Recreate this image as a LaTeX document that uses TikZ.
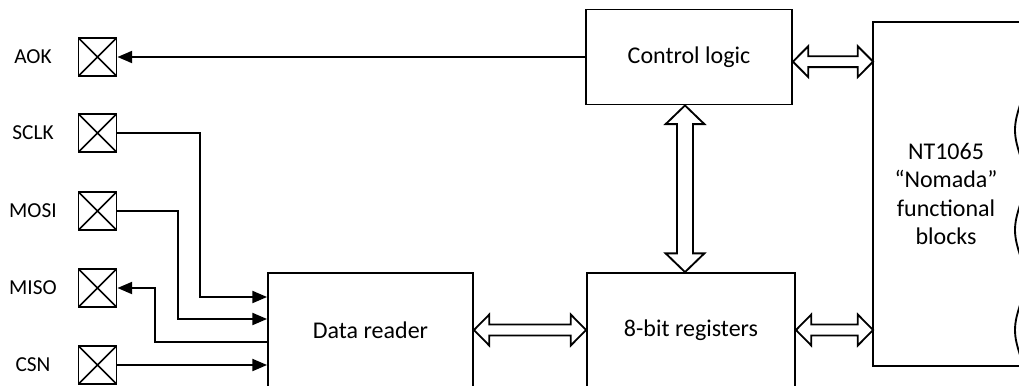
\documentclass[tikz,border=0pt]{standalone}
\usepackage{fontspec}
\setmainfont{Carlito}
\usetikzlibrary{arrows.meta,calc}

\tikzset{
 block/.style={draw,line width=1.4pt,align=center,inner sep=2pt,font=\fontsize{18}{21.4}\selectfont},
 pad/.style={draw,line width=1.4pt,minimum size=28.5pt,inner sep=0pt,
  path picture={\draw[line width=1.2pt] (path picture bounding box.north west)--(path picture bounding box.south east)
   (path picture bounding box.south west)--(path picture bounding box.north east);}},
 padname/.style={font=\fontsize{16}{18}\selectfont},
 wire/.style={line width=1.4pt,-{Triangle[length=11pt,width=9pt]}},
 bus/.style={draw,line width=1.4pt,fill=white,line join=miter}
}
% hollow two-headed buses, horizontal (left, right) and vertical (lower, upper)
\newcommand\hbus[2]{\path[bus] let \p1=#1, \p2=#2 in
 (\x1,\y1) -- ++(11.5pt,11.6pt) -- ++(0,-7.5pt) -- (\x2-11.5pt,\y1+4.1pt) -- ++(0,7.5pt)
 -- (\x2,\y1) -- ++(-11.5pt,-11.6pt) -- ++(0,7.5pt) -- (\x1+11.5pt,\y1-4.1pt) -- ++(0,-7.5pt) -- cycle;}
\newcommand\vbus[2]{\path[bus] let \p1=#1, \p2=#2 in
 (\x1,\y1) -- ++(14.5pt,14pt) -- ++(-8.5pt,0) -- (\x1+6pt,\y2-14pt) -- ++(8.5pt,0)
 -- (\x1,\y2) -- ++(-14.5pt,-14pt) -- ++(8.5pt,0) -- (\x1-6pt,\y1+14pt) -- ++(-8.5pt,0) -- cycle;}

\begin{document}
\begin{tikzpicture}[x=0.75pt,y=-0.75pt]
\useasboundingbox (0,0) rectangle (1019,385);
\clip (0,0) rectangle (1019,385);

\node[block,minimum width=154.5pt,minimum height=71.25pt] (ctrl) at (689,57) {Control logic};
\node[block,minimum width=153.75pt,minimum height=85.5pt] (reader) at (370.5,330) {Data reader};
\node[block,minimum width=156pt,minimum height=85.5pt] (regs) at (691,330) {8-bit registers};
\node[block,draw=none,minimum width=108pt,minimum height=256.5pt] (nt) at (946,194)
 {NT1065\\``Nomada''\\functional\\blocks};
\draw[line width=1.4pt] (nt.north east) -- (nt.north west) -- (nt.south west) -- (nt.south east);
\draw[line width=1.4pt] plot[domain=80:365,samples=90,smooth] ({1020-5*cos(3.6*(\x-130))},\x);

\foreach \name/\y in {AOK/57,SCLK/133,MOSI/211,MISO/288,CSN/365}{
 \node[pad] (\name) at (97.5,\y) {};
 \node[padname] (\name-txt) at (33,\y) {\name};
}

\draw[wire] (ctrl.west) -- (AOK.east);
\draw[wire] (SCLK.east) -| (200,297) -- (reader.west |- 0,297);
\draw[wire] (MOSI.east) -| (178,319) -- (reader.west |- 0,319);
\draw[wire] (reader.west |- 0,342) -| (155,288) -- (MISO.east);
\draw[wire] (CSN.east) -- (reader.west |- CSN.east);

\coordinate (ctrl-r) at ([yshift=-3.5pt]ctrl.east);
\coordinate (ctrl-b) at ([xshift=-3pt]ctrl.south);
\hbus{(reader.east)}{(regs.west)}
\hbus{(ctrl-r)}{(nt.west |- ctrl-r)}
\hbus{(regs.east)}{(nt.west |- regs.east)}
\vbus{(regs.north -| ctrl-b)}{(ctrl-b)}
\end{tikzpicture}
\end{document}
